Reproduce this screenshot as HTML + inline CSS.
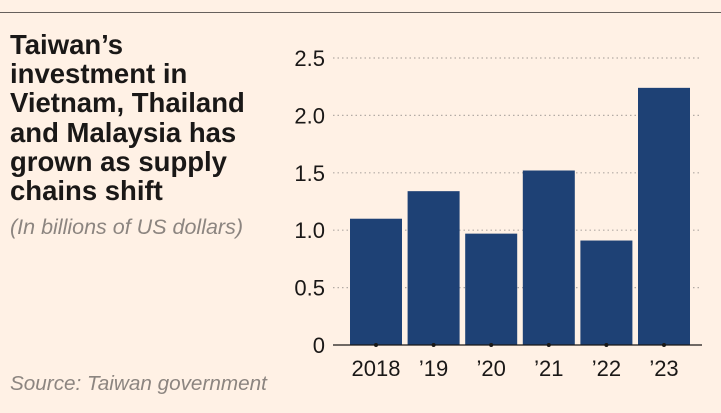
<!DOCTYPE html>
<html><head><meta charset="utf-8"><style>
body{margin:0;width:721px;height:413px;background:#fff1e5;font-family:"Liberation Sans",sans-serif;position:relative;overflow:hidden}
#rule{position:absolute;left:0;top:12px;width:721px;height:1px;background:#66605c}
#title{position:absolute;left:10px;top:30px;width:260px;font-size:27.5px;font-weight:bold;line-height:29.2px;color:#1a1817}
#sub{position:absolute;left:10px;top:215px;font-size:21.5px;font-style:italic;color:#8c8580}
#src{position:absolute;left:10px;top:372px;font-size:20.7px;font-style:italic;color:#8c8580}
svg{position:absolute;left:0;top:0}
</style></head><body>
<div id="rule"></div>
<div id="title">Taiwan’s<br>investment in<br>Vietnam, Thailand<br>and Malaysia has<br>grown as supply<br>chains shift</div>
<div id="sub">(In billions of US dollars)</div>
<div id="src">Source: Taiwan government</div>
<svg id="chart" width="721" height="413"></svg>
<script>
const categories=["2018","’19","’20","’21","’22","’23"];
const values=[1.10,1.34,0.97,1.52,0.91,2.24];
const ticks=[0,0.5,1.0,1.5,2.0,2.5];
const tickLabels=["0","0.5","1.0","1.5","2.0","2.5"];
const svg=document.getElementById('chart');
const NS="http://www.w3.org/2000/svg";
const y0=345,yTop=58,vmax=2.5,xl=350,step=57.6,bw=52;
const y=v=>y0-(v/vmax)*(y0-yTop);
const xc=i=>xl+step*i+bw/2;
function mk(t,a){const e=document.createElementNS(NS,t);for(const k in a)e.setAttribute(k,a[k]);svg.appendChild(e);return e;}
ticks.forEach((t,i)=>{
 if(t>0){const g=mk('line',{x1:333,x2:702,y1:y(t),y2:y(t),stroke:'#b3aba5','stroke-width':1.2,'stroke-dasharray':'1.5 3'});
 
 }
 const l=mk('text',{x:325,y:y(t)+8,'text-anchor':'end','font-size':22,fill:'#1a1817','font-family':'Liberation Sans, sans-serif'});
 l.textContent=tickLabels[i];
 
 
});
values.forEach((v,i)=>{
 const b=mk('rect',{x:xc(i)-bw/2,y:y(v),width:bw,height:y0-y(v),fill:'#1e4175'});
 
 
});
const base=mk('line',{x1:333,x2:702,y1:y0,y2:y0,stroke:'#1a1817','stroke-width':1.2});


categories.forEach((c,i)=>{
 const d=mk('circle',{cx:xc(i),cy:y0,r:2,fill:'#1a1817'});
 
 
 const t=mk('text',{x:xc(i),y:376,'text-anchor':'middle','font-size':22,fill:'#1a1817','font-family':'Liberation Sans, sans-serif'});
 t.textContent=c;
 
 
});
</script>
</body></html>
